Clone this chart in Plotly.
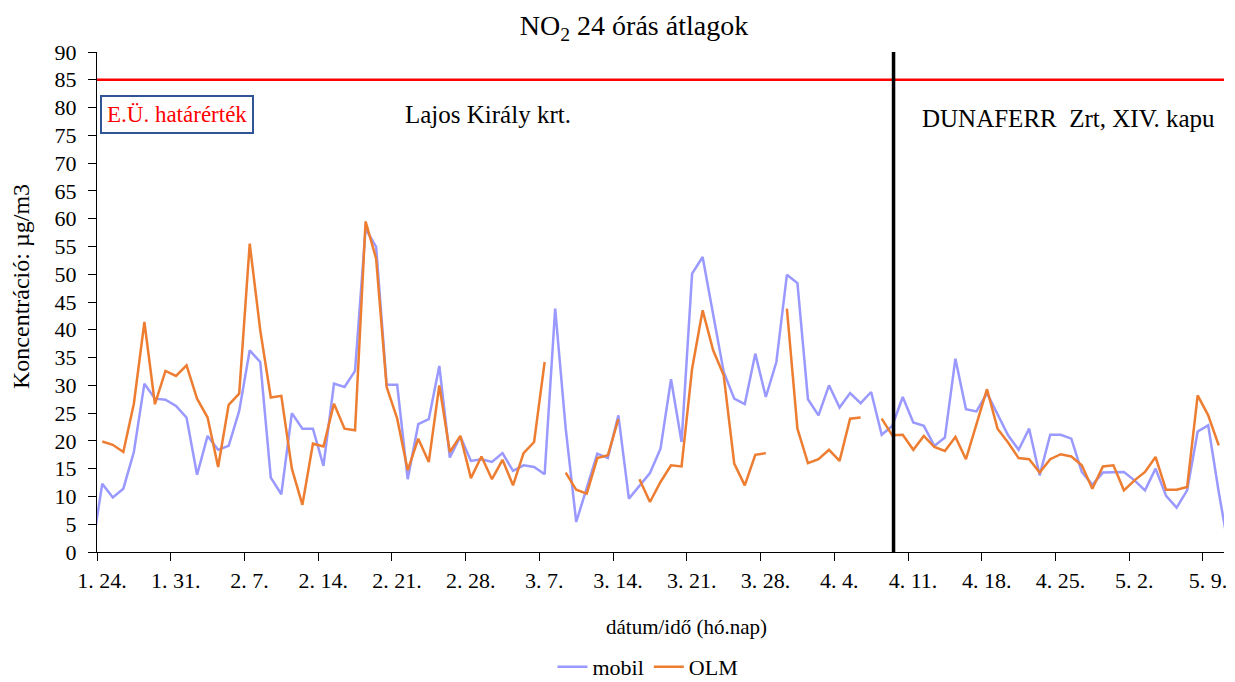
import pandas as pd
import plotly.graph_objects as go

# Daily 24-hour means, one value per day starting 2019-01-23 (day centres)
start_day = "2019-01-23 12:00"
mobil = [0,
         12.3, 9.8, 11.4, 18.0, 30.3, 27.6, 27.4, 26.3, 24.2, 13.9,
         20.9, 18.4, 19.1, 25.4, 36.3, 34.2, 13.4, 10.4, 25.0, 22.2,
         22.2, 15.5, 30.3, 29.7, 32.6, 58.2, 54.9, 30.1, 30.1, 13.1,
         23.0, 23.9, 33.5, 17.0, 20.8, 16.4, 16.7, 16.2, 17.8, 14.6,
         15.6, 15.3, 14.0, 43.8, 22.2, 5.4, 11.4, 17.7, 16.9, 24.6,
         9.6, 12.0, 14.2, 18.6, 31.1, 19.8, 50.1, 53.1, 42.6, 32.4,
         27.6, 26.6, 35.7, 27.9, 34.2, 49.9, 48.4, 27.5, 24.6, 30.0,
         26.0, 28.6, 26.8, 28.8, 21.1, 22.7, 27.9, 23.3, 22.7, 19.1,
         20.6, 34.8, 25.7, 25.3, 28.6, 24.8, 21.0, 18.4, 22.2, 13.8,
         21.1, 21.1, 20.4, 14.4, 12.1, 14.3, 14.3, 14.4, 12.9, 11.1,
         15.0, 10.1, 8.0, 11.1, 21.7, 22.8, 10.8,
         0]
olm = [None,
       19.9, 19.3, 18.0, 26.7, 41.4, 26.6, 32.6, 31.7, 33.6, 27.6,
       24.2, 15.3, 26.5, 28.5, 55.5, 39.9, 27.8, 28.1, 15.0, 8.5,
       19.5, 19.0, 26.7, 22.2, 21.9, 59.5, 52.8, 29.7, 24.0, 14.7,
       20.4, 16.2, 30.0, 18.0, 20.9, 13.3, 17.2, 13.1, 16.6, 12.0,
       17.8, 19.8, 34.2, None, 14.3, 11.2, 10.5, 16.9, 17.4, 23.9,
       None, 13.1, 9.0, 12.6, 15.6, 15.4, 33.0, 43.5, 36.3, 31.8,
       15.9, 12.0, 17.5, 17.8, None, 43.8, 22.2, 16.0, 16.7, 18.4,
       16.4, 24.0, 24.2, None, 24.0, 21.0, 21.1, 18.4, 20.9, 18.9,
       18.2, 20.7, 16.7, 22.8, 29.3, 22.2, 19.7, 16.9, 16.7, 14.3,
       16.7, 17.6, 17.2, 15.6, 11.4, 15.4, 15.6, 11.1, 12.9, 14.4,
       17.1, 11.2, 11.2, 11.7, 28.2, 24.6, 19.2,
       None]

tick_dates = ["2019-01-24", "2019-01-31", "2019-02-07", "2019-02-14",
              "2019-02-21", "2019-02-28", "2019-03-07", "2019-03-14",
              "2019-03-21", "2019-03-28", "2019-04-04", "2019-04-11",
              "2019-04-18", "2019-04-25", "2019-05-02", "2019-05-09"]
tick_labels = ["1. 24.", "1. 31.", "2. 7.", "2. 14.", "2. 21.", "2. 28.",
               "3. 7.", "3. 14.", "3. 21.", "3. 28.", "4. 4.", "4. 11.",
               "4. 18.", "4. 25.", "5. 2.", "5. 9."]

limit_value = 85
station_change = "2019-04-09 15:00"
x_range = ["2019-01-24", "2019-05-11"]

dates = pd.date_range(start_day, periods=len(mobil), freq="D")

FONT = "Liberation Serif"
W, H = 1235, 682

fig = go.Figure()
fig.add_trace(go.Scatter(x=dates, y=mobil, mode="lines", name="mobil",
                         line=dict(color="#9999FF", width=2.5)))
fig.add_trace(go.Scatter(x=dates, y=olm, mode="lines", name="OLM",
                         line=dict(color="#ED7D31", width=2.5)))

fig.add_shape(type="line", xref="paper", yref="y", x0=0, x1=1,
              y0=limit_value, y1=limit_value,
              line=dict(color="#FF0000", width=2.5))
fig.add_shape(type="line", xref="x", yref="y", x0=station_change,
              x1=station_change, y0=0, y1=90.4,
              line=dict(color="black", width=3.5))

fig.update_layout(
    width=W, height=H,
    margin=dict(l=97, r=11, t=52, b=130, autoexpand=False),
    plot_bgcolor="white", paper_bgcolor="white",
    font=dict(family=FONT, color="black", size=21),
    title=dict(text="NO<sub>2</sub> 24 órás átlagok", x=634 / W,
               xref="container", xanchor="center",
               y=1 - 25 / H, yref="container", yanchor="middle",
               font=dict(family=FONT, size=28, color="black")),
    showlegend=True,
    legend=dict(orientation="h", x=648 / W, xref="container",
                y=1 - 667 / H, yref="container", xanchor="center",
                yanchor="middle", font=dict(family=FONT, size=22),
                bgcolor="rgba(0,0,0,0)"),
)

fig.update_xaxes(type="date", range=x_range, tickvals=tick_dates,
                 ticktext=tick_labels, ticks="outside", ticklen=8,
                 tickcolor="black", showline=True, linecolor="black",
                 linewidth=1.3, showgrid=False, zeroline=False,
                 ticklabelshift=5, tickfont=dict(size=22), automargin=False)
fig.update_yaxes(range=[0, 90], dtick=5, ticks="outside", ticklen=8,
                 tickcolor="black", showline=True, linecolor="black",
                 linewidth=1.3, showgrid=False, zeroline=False,
                 ticklabelstandoff=7, tickfont=dict(size=22), automargin=False)

fig.add_annotation(text="dátum/idő (hó.nap)", xref="paper", yref="paper",
                   x=(686 - 97) / 1127, y=(552 - 627) / 500,
                   xanchor="center", yanchor="middle",
                   showarrow=False, font=dict(size=21))
fig.add_annotation(text="Koncentráció: µg/m3", xref="paper", yref="paper",
                   x=(21 - 97) / 1127, y=(552 - 287) / 500, xanchor="center",
                   yanchor="middle", textangle=-90, showarrow=False,
                   font=dict(size=24))
fig.add_annotation(text="E.Ü. határérték", xref="paper", yref="paper",
                   x=(100 - 97) / 1127, y=(552 - 114.5) / 500,
                   xanchor="left", yanchor="middle",
                   showarrow=False, font=dict(size=23, color="#FF0000"),
                   bordercolor="#2F5597", borderwidth=2, borderpad=5,
                   bgcolor="white")
fig.add_annotation(text="Lajos Király krt.", xref="paper", yref="paper",
                   x=(403 - 97) / 1127, y=(552 - 114) / 500,
                   xanchor="left", yanchor="middle",
                   showarrow=False, font=dict(size=25))
fig.add_annotation(text="DUNAFERR\u00a0 Zrt, XIV. kapu", xref="paper",
                   yref="paper", x=(920 - 97) / 1127, y=(552 - 118) / 500,
                   xanchor="left", yanchor="middle", showarrow=False,
                   font=dict(size=25))

fig.write_html("out.html")
